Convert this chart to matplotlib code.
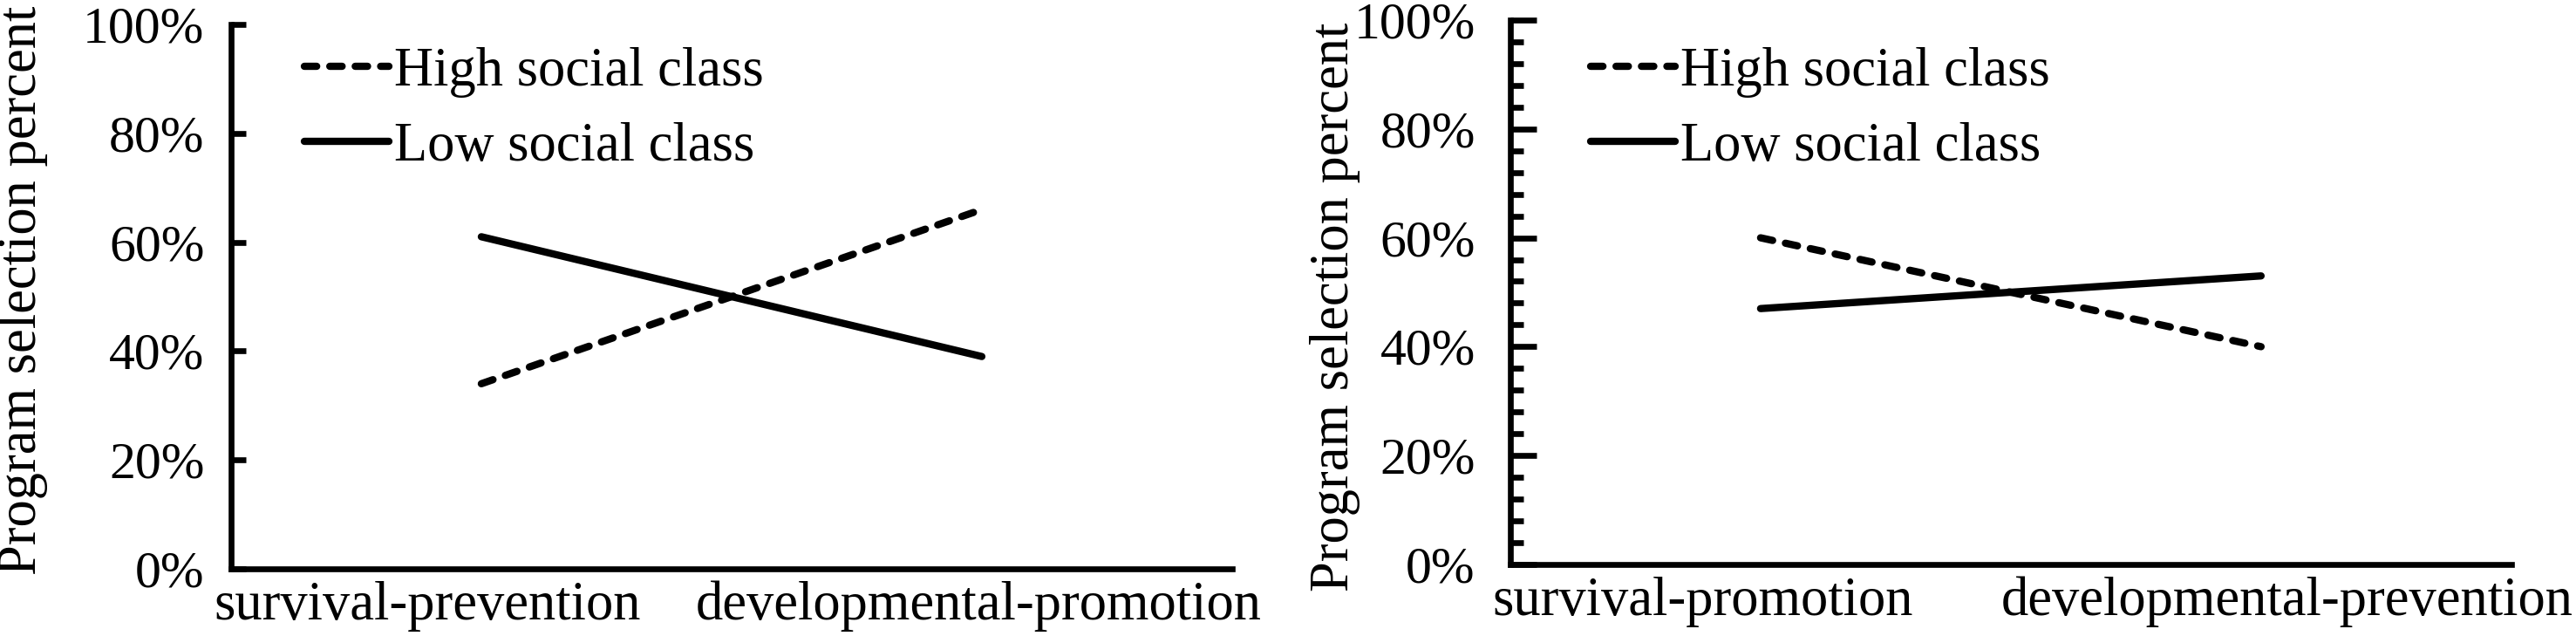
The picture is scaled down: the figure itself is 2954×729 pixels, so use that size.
import matplotlib
matplotlib.use('Agg')
import matplotlib.pyplot as plt
from matplotlib.ticker import MultipleLocator, FuncFormatter
from matplotlib.transforms import ScaledTranslation

# values (percent of program selections)
cats_left = ['survival-prevention', 'developmental-promotion']
high_left = [34, 66]
low_left = [61, 39]

cats_right = ['survival-promotion', 'developmental-prevention']
high_right = [60, 40]
low_right = [47, 53]

ylab = 'Program selection percent'

plt.rcParams['font.family'] = 'serif'
plt.rcParams['font.serif'] = ['Liberation Serif', 'DejaVu Serif']
fig = plt.figure(figsize=(29.54, 7.29), dpi=100)
ax1 = fig.add_axes([0.0897, 0.1056, 0.3886, 0.856])
ax2 = fig.add_axes([0.5863, 0.1125, 0.3886, 0.856])


def panel(ax, cats, high, low, minor, maj_len, ypad, lab_shift, ylab_xy, leg_xy):
    x = list(range(len(cats)))
    ax.plot(x, high, color='black', lw=6, linestyle=(0, (1.7, 1.8)),
            dash_capstyle='round', label='High social class')
    ax.plot(x, low, color='black', lw=6, solid_capstyle='round',
            label='Low social class')
    ax.set_xlim(-0.5, len(cats) - 0.5)
    ax.set_ylim(0, 100)
    for s in ['top', 'right']:
        ax.spines[s].set_visible(False)
    for s in ['left', 'bottom']:
        ax.spines[s].set_linewidth(4.8)
    ax.yaxis.set_major_locator(MultipleLocator(20))
    ax.yaxis.set_major_formatter(FuncFormatter(lambda v, p: '%d%%' % v))
    ax.tick_params(axis='y', direction='in', length=maj_len, width=4.8,
                   pad=ypad, labelsize=43)
    if minor:
        ax.yaxis.set_minor_locator(MultipleLocator(4))
        ax.tick_params(axis='y', which='minor', direction='in', length=maj_len / 2,
                       width=4.8)
    ax.set_xticks(x)
    ax.set_xticklabels(cats)
    ax.tick_params(axis='x', length=0, pad=10, labelsize=45)
    for lab, dx in zip(ax.get_xticklabels(), lab_shift):
        lab.set_transform(lab.get_transform() + ScaledTranslation(dx / 100, 0, fig.dpi_scale_trans))
    ax.set_ylabel(ylab, fontsize=45)
    ax.yaxis.set_label_coords(*ylab_xy)
    ax.legend(loc='upper left', bbox_to_anchor=leg_xy, frameon=False, fontsize=45,
              handlelength=1.55, handletextpad=0.1, labelspacing=0.45,
              borderpad=0, borderaxespad=0)


panel(ax1, cats_left, high_left, low_left, False, 12, 22, [-62, -4],
      (-0.183, 0.511), (0.073, 0.958))
panel(ax2, cats_right, high_right, low_right, True, 21.6, 29, [-66, 30],
      (-0.150, 0.473), (0.080, 0.951))

fig.savefig('out.png', dpi=100)
